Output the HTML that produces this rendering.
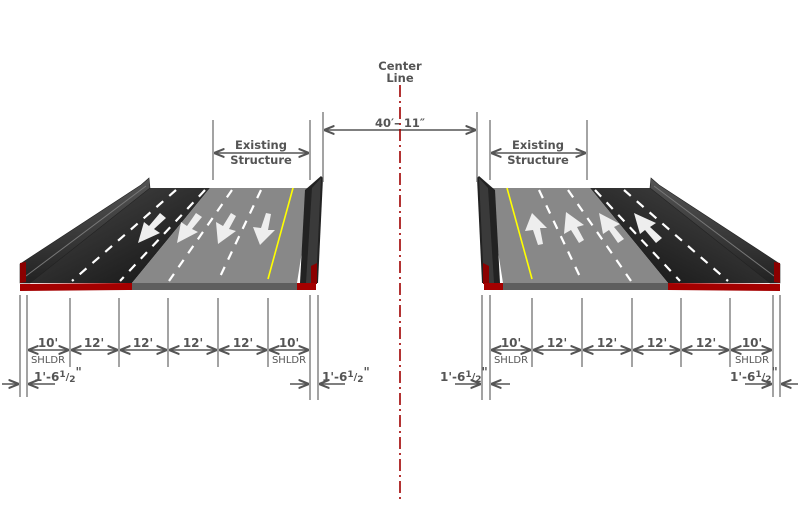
<!DOCTYPE html>
<html><head><style>
html,body{margin:0;padding:0;background:#fff;}
svg{display:block;}
text{font-family:"DejaVu Sans","Liberation Sans",sans-serif;font-weight:bold;fill:#555;}
</style></head><body>
<svg width="800" height="509" viewBox="0 0 800 509" xmlns="http://www.w3.org/2000/svg">
<defs>
<linearGradient id="dk" x1="0" y1="0" x2="1" y2="1">
<stop offset="0" stop-color="#4a4a4a"/><stop offset="1" stop-color="#111"/></linearGradient>
<linearGradient id="wall" x1="0" y1="0" x2="0" y2="1">
<stop offset="0" stop-color="#555"/><stop offset="1" stop-color="#222"/></linearGradient>
<marker id="ar" viewBox="0 0 10 10" refX="10" refY="5" markerWidth="7" markerHeight="7" orient="auto-start-reverse">
<path d="M0,1 L10,5 L0,9" fill="none" stroke="#555" stroke-width="2"/></marker>
<polygon id="a1" points="160,213 166,218 154,229 160,233 138,243 144,222 149,226" fill="#eee"/>
<polygon id="a2" points="196,213 202,217 192,229 198,232 177,243 181,222 187,226" fill="#eee"/>
<polygon id="a3" points="231,213 236,216 229,229 236,231 218,244 216,222 223,226" fill="#eee"/>
<polygon id="a4" points="266,213 271,214 268,230 275,230 260,245 253,227 261,228" fill="#eee"/>
<g id="deck">
  <polygon points="150,188 210,188 132,283 28,283" fill="url(#dk)"/>
  <polygon points="210,188 312,188 297,283 132,283" fill="#888"/>
  <polygon points="141,185 149,178 150,188 30,283 20,283 20,264" fill="url(#wall)" stroke="#222" stroke-width="0.6"/>
  <line x1="146" y1="186" x2="26" y2="276" stroke="#777" stroke-width="1"/>
  <polygon points="20,263 26,262 26,282 20,283" fill="#8b0000"/>
  <polygon points="305,190 321,176 323,178 318,283 300,283" fill="#222"/>
  <polygon points="312,188 321,178 316,283 306,283" fill="#3a3a3a"/>
  <polygon points="311,266 317,263 317,284 311,284" fill="#8b0000"/>
  <polygon points="20,284 132,283 132,290 20,291" fill="#a40000"/>
  <polygon points="132,283 297,283 297,290 132,290" fill="#5e5e5e"/>
  <polygon points="297,283 316,283 316,290 297,290" fill="#a40000"/>
  <g stroke="#fff" stroke-width="2.2" stroke-dasharray="9,8">
    <line x1="176" y1="190" x2="72" y2="281"/>
    <line x1="205" y1="190" x2="120" y2="281"/>
    <line x1="232" y1="190" x2="169" y2="281"/>
    <line x1="261" y1="190" x2="218" y2="281"/>
  </g>
  <line x1="293" y1="188" x2="268" y2="279" stroke="#ff0" stroke-width="1.6"/>
  <g stroke="#666" stroke-width="1.2">
    <line x1="20" y1="295" x2="20" y2="397"/>
    <line x1="27" y1="295" x2="27" y2="397"/>
    <line x1="70" y1="298" x2="70" y2="367"/>
    <line x1="119" y1="298" x2="119" y2="367"/>
    <line x1="168" y1="298" x2="168" y2="367"/>
    <line x1="218" y1="298" x2="218" y2="367"/>
    <line x1="268" y1="298" x2="268" y2="367"/>
    <line x1="310" y1="295" x2="310" y2="400"/>
    <line x1="318" y1="295" x2="318" y2="400"/>
  </g>
  <g stroke="#555" stroke-width="1.5" marker-start="url(#ar)" marker-end="url(#ar)">
    <line x1="28" y1="350" x2="69" y2="350"/>
    <line x1="71" y1="350" x2="118" y2="350"/>
    <line x1="120" y1="350" x2="167" y2="350"/>
    <line x1="169" y1="350" x2="217" y2="350"/>
    <line x1="219" y1="350" x2="267" y2="350"/>
    <line x1="269" y1="350" x2="309" y2="350"/>
  </g>
  <g stroke="#555" stroke-width="1.5" marker-end="url(#ar)">
    <line x1="2" y1="384" x2="19" y2="384"/>
    <line x1="55" y1="384" x2="28" y2="384"/>
    <line x1="290" y1="384" x2="309" y2="384"/>
    <line x1="345" y1="384" x2="319" y2="384"/>
  </g>
</g>
</defs>
<use href="#deck"/>
<use href="#deck" transform="translate(800,0) scale(-1,1)"/>
<use href="#a1"/><use href="#a2"/><use href="#a3"/><use href="#a4"/>
<g transform="translate(800,0) scale(-1,1)">
  <use href="#a1" transform="rotate(180 152 228)"/>
  <use href="#a2" transform="rotate(180 189 228)"/>
  <use href="#a3" transform="rotate(180 226 228)"/>
  <use href="#a4" transform="rotate(180 264 229)"/>
</g>
<g stroke="#666" stroke-width="1.2">
  <line x1="213" y1="120" x2="213" y2="180"/><line x1="310" y1="120" x2="310" y2="180"/>
  <line x1="323" y1="112" x2="323" y2="182"/><line x1="477" y1="112" x2="477" y2="182"/>
  <line x1="490" y1="120" x2="490" y2="180"/><line x1="587" y1="120" x2="587" y2="180"/>
</g>
<g stroke="#555" stroke-width="1.5" marker-start="url(#ar)" marker-end="url(#ar)">
  <line x1="214" y1="153" x2="309" y2="153"/>
  <line x1="324" y1="130" x2="476" y2="130"/>
  <line x1="491" y1="153" x2="586" y2="153"/>
</g>
<line x1="400" y1="85" x2="400" y2="500" stroke="#a00000" stroke-width="1.6" stroke-dasharray="12,4,2,4"/>
<g font-size="11.5" text-anchor="middle">
  <text x="400" y="70">Center</text><text x="400" y="82">Line</text>
  <text x="400" y="127">40′– 11″</text>
  <text x="261" y="149">Existing</text><text x="261" y="164">Structure</text>
  <text x="538" y="149">Existing</text><text x="538" y="164">Structure</text>
</g>
<g font-size="12" text-anchor="middle">
  <text x="48" y="347">10'</text><text x="94" y="347">12'</text><text x="143" y="347">12'</text>
  <text x="193" y="347">12'</text><text x="243" y="347">12'</text><text x="289" y="347">10'</text>
  <text x="511" y="347">10'</text><text x="557" y="347">12'</text><text x="607" y="347">12'</text>
  <text x="657" y="347">12'</text><text x="706" y="347">12'</text><text x="752" y="347">10'</text>
</g>
<g font-size="10" text-anchor="middle">
  <text x="48" y="363" style="font-weight:normal">SHLDR</text><text x="289" y="363" style="font-weight:normal">SHLDR</text>
  <text x="511" y="363" style="font-weight:normal">SHLDR</text><text x="752" y="363" style="font-weight:normal">SHLDR</text>
</g>
<g font-size="12">
  <text x="34" y="381">1'-6<tspan font-size="9" dy="-4">1</tspan><tspan font-size="10" dy="3">/</tspan><tspan font-size="9" dy="2">2</tspan><tspan dy="-6">"</tspan></text>
  <text x="322" y="381">1'-6<tspan font-size="9" dy="-4">1</tspan><tspan font-size="10" dy="3">/</tspan><tspan font-size="9" dy="2">2</tspan><tspan dy="-6">"</tspan></text>
  <text x="440" y="381">1'-6<tspan font-size="9" dy="-4">1</tspan><tspan font-size="10" dy="3">/</tspan><tspan font-size="9" dy="2">2</tspan><tspan dy="-6">"</tspan></text>
  <text x="730" y="381">1'-6<tspan font-size="9" dy="-4">1</tspan><tspan font-size="10" dy="3">/</tspan><tspan font-size="9" dy="2">2</tspan><tspan dy="-6">"</tspan></text>
</g>
</svg>
</body></html>
